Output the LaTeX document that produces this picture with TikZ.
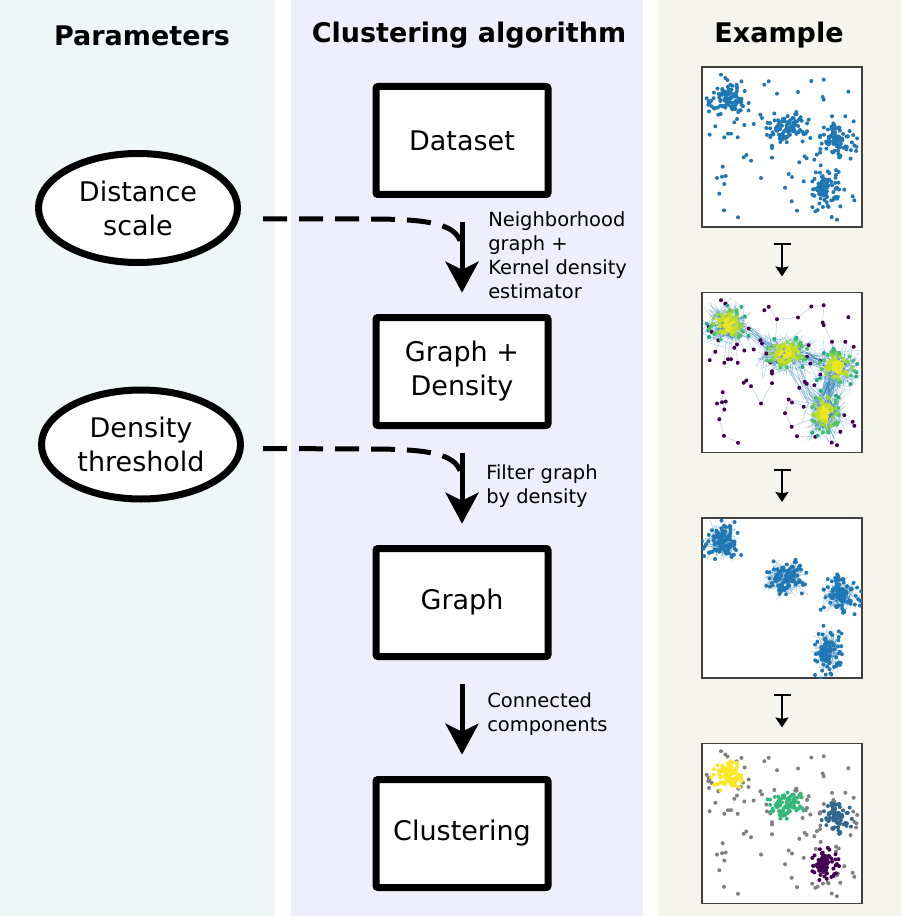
\documentclass[tikz,border=0pt]{standalone}
\usepackage{fontspec}
\setmainfont{DejaVu Sans}
\usetikzlibrary{arrows.meta,shapes.geometric}
\definecolor{bgpar}{HTML}{EEF7F5}
\definecolor{bgalg}{HTML}{EEEEFC}
\definecolor{bgex}{HTML}{F5F5EE}
\definecolor{mplblue}{HTML}{1F77B4}
\definecolor{vir1}{HTML}{EBE51E}
\definecolor{vir2}{HTML}{C2DF23}
\definecolor{vir3}{HTML}{8ED645}
\definecolor{vir4}{HTML}{4AC16D}
\definecolor{vir5}{HTML}{25AB82}
\definecolor{virP}{HTML}{440154}
\definecolor{cluY}{HTML}{FDE725}
\definecolor{cluG}{HTML}{35B779}
\definecolor{cluT}{HTML}{31688E}
\definecolor{cluP}{HTML}{440154}
\definecolor{noisegray}{HTML}{808080}

\newcommand\noisepts{19/7.7, 23.3/11, 62.3/17.7, 66.7/14.3, 75/26.7, 96/25, 109.3/14, 121.7/12.7, 146.3/24.7, 120.7/30, 121.7/32.7, 46.7/36, 16.3/47.7, 58.3/47.7, 60/51, 32.3/55.3, 35/52, 42.3/58, 51.7/57, 13.3/59.3, 7.7/67.7, 22.3/70.3, 26/66.7, 29/66.7, 35.7/70.3, 64.3/61, 70/78.7, 70/81, 106.7/52.7, 108.3/71, 143.3/49.3, 130/49.3, 151.7/54.3, 118.3/82, 41.7/90.3, 44.3/88, 49/93.7, 70/90.7, 102.7/89.3, 104.7/91.3, 112.3/92.7, 97.3/95.3, 20.7/99.7, 15/111, 20/109.7, 23.7/109, 22.3/117, 17.3/126.7, 59/111, 86.7/107, 90/110, 83/120.7, 101.7/114.3, 89.7/134.3, 95/143.7, 113.3/144.3, 22/143.3, 36/150.3, 129.7/150, 135/152.7, 138.3/139.3, 142.3/122.7, 150.7/129.3, 152.3/133.3, 6.7/34.3, 9.7/39.3, 105/64.3, 68.3/70, 118.3/68.7}

\newcommand\noiseedges{62.3/17.7/66.7/14.3, 66.7/14.3/75/26.7, 75/26.7/73.3/47.3, 75/26.7/96/25, 96/25/109.3/14, 109.3/14/121.7/12.7, 121.7/12.7/120.7/30, 120.7/30/121.7/32.7, 121.7/32.7/130/49.3, 130/49.3/133/65, 143.3/49.3/136/66, 151.7/54.3/140/70, 46.7/36/30/40, 16.3/47.7/22/42, 13.3/59.3/20/45, 7.7/67.7/13.3/59.3, 22.3/70.3/24/48, 26/66.7/28/47, 29/66.7/30/45, 35.7/70.3/33/46, 42.3/58/35/42, 51.7/57/40/38, 58.3/47.7/68/55, 60/51/70/58, 41.7/90.3/44.3/88, 44.3/88/49/93.7, 49/93.7/59/111, 59/111/70/90.7, 70/90.7/71/72, 70/81/72/70, 70/78.7/76/68, 20.7/99.7/20/109.7, 20/109.7/23.7/109, 15/111/20/109.7, 15/111/23.7/109, 23.7/109/22.3/117, 20/109.7/22.3/117, 22.3/117/17.3/126.7, 17.3/126.7/22/143.3, 22/143.3/36/150.3, 86.7/107/90/110, 83/120.7/86.7/107, 83/120.7/89.7/134.3, 89.7/134.3/113/125, 90/110/115/116, 86.7/107/116/112, 101.7/114.3/117/118, 97.3/95.3/115/108, 102.7/89.3/117/106, 104.7/91.3/118.3/82, 112.3/92.7/120/107, 118.3/82/128/73, 95/143.7/113.3/144.3, 113.3/144.3/120/132, 129.7/150/126/134, 135/152.7/128/135, 138.3/139.3/130/128, 142.3/122.7/130/118, 150.7/129.3/131/122, 152.3/133.3/132/126, 106.7/52.7/120/68, 108.3/71/125/74, 105/64.3/95/62, 68.3/70/78/63, 6.7/34.3/18/32, 9.7/39.3/20/36}

% seed cx cy sx sy n colour
\newcommand\clusterdots[7]{%
  \pgfmathsetseed{#1}%
  \foreach \k in {1,...,#6}{%
    \pgfmathsetmacro\ux{rand+rand+rand}%
    \pgfmathsetmacro\uy{rand+rand+rand}%
    \fill[#7] ({#2+#4*\ux},{#3+#5*\uy}) circle[radius=1.5pt];%
  }%
}
% seed cx cy sx sy n  (density colouring)
\newcommand\clusterdens[6]{%
  \foreach \pass in {1,2}{%
    \pgfmathsetseed{#1}%
    \foreach \k in {1,...,#6}{%
      \pgfmathsetmacro\ux{rand+rand+rand}%
      \pgfmathsetmacro\uy{rand+rand+rand}%
      \pgfmathsetmacro\rr{sqrt(\ux*\ux+\uy*\uy)}%
      \pgfmathtruncatemacro\ci{\rr<0.8 ? 1 : (\rr<1.4 ? 2 : (\rr<1.9 ? 3 : (\rr<2.4 ? 4 : 5)))}%
      \pgfmathtruncatemacro\inpass{\ci<3 ? 2 : 1}%
      \ifnum\inpass=\pass\relax
        \fill[vir\ci] ({#2+#4*\ux},{#3+#5*\uy}) circle[radius=1.5pt];%
      \fi
    }%
  }%
}
% seed cx cy sx sy n colour (labelled clustering)
\newcommand\clusterlab[7]{%
  \foreach \pass in {1,2}{%
    \pgfmathsetseed{#1}%
    \foreach \k in {1,...,#6}{%
      \pgfmathsetmacro\ux{rand+rand+rand}%
      \pgfmathsetmacro\uy{rand+rand+rand}%
      \pgfmathtruncatemacro\inpass{sqrt(\ux*\ux+\uy*\uy)<2.2 ? 2 : 1}%
      \ifnum\inpass=\pass\relax
        \ifnum\pass=1\relax
          \fill[noisegray] ({#2+#4*\ux},{#3+#5*\uy}) circle[radius=1.5pt];%
        \else
          \fill[#7] ({#2+#4*\ux},{#3+#5*\uy}) circle[radius=1.5pt];%
        \fi
      \fi
    }%
  }%
}
% seed cx cy sx sy n spread
\newcommand\clusterweb[7]{%
  \pgfmathsetseed{#1}%
  \foreach \k in {1,...,#6}{%
    \draw[webline] ({#2+#7*#4*(rand+rand+rand)},{#3+#7*#5*(rand+rand+rand)}) -- ({#2+#7*#4*(rand+rand+rand)},{#3+#7*#5*(rand+rand+rand)});%
  }%
}
% seed x1 y1 x2 y2 s1 s2 n
\newcommand\bridge[8]{%
  \pgfmathsetseed{#1}%
  \foreach \k in {1,...,#8}{%
    \draw[webline] ({#2+#6*(rand+rand)},{#3+#6*(rand+rand)}) -- ({#4+#7*(rand+rand)},{#5+#7*(rand+rand)});%
  }%
}

\begin{document}
\begin{tikzpicture}[x=0.75pt,y=-0.75pt,
  stepbox/.style={draw, line width=5.25pt, fill=white, rounded corners=1.5pt,
    minimum width=129pt, minimum height=81pt, align=center,
    font=\fontsize{20.25pt}{25.5pt}\selectfont},
  param/.style={ellipse, draw, line width=5.25pt, fill=white,
    minimum width=149.25pt, minimum height=81.75pt, inner sep=0pt, align=center,
    font=\fontsize{20.25pt}{25.5pt}\selectfont},
  colhead/.style={anchor=base, inner sep=0pt, font=\bfseries\fontsize{20.25pt}{24pt}\selectfont},
  steplabel/.style={anchor=west, align=left, inner sep=0pt,
    font=\fontsize{14.6pt}{18pt}\selectfont},
  flow/.style={line width=3.75pt, -{Stealth[length=23.25pt,width=24.75pt,inset=6pt]},
    shorten <=18pt, shorten >=16pt},
  paramline/.style={line width=3.75pt, dash pattern=on 18pt off 9pt},
  plotframe/.style={draw=black!75, line width=1.1pt, fill=white, minimum size=120pt,
    inner sep=0pt, outer sep=0pt},
  mapsto/.style={line width=1.5pt, {Bar[width=12.75pt]}-{Stealth[length=7.5pt,width=9.75pt,inset=1pt]},
    shorten <=12pt, shorten >=12pt},
  webline/.style={mplblue, line width=0.3pt, opacity=0.4},
]
\useasboundingbox (0,0) rectangle (901,916);
\fill[white] (0,0) rectangle (901,916);
\fill[bgpar] (0,0) rectangle (275,916);
\fill[bgalg] (291,0) rectangle (643,916);
\fill[bgex] (658,0) rectangle (901,916);

% headers
\node[colhead] (hpar) at (142,45.5) {Parameters};
\node[colhead] (halg) at (469,42.5) {Clustering algorithm};
\node[colhead] (hex) at (779,42.5) {Example};

% parameters
\node[param] (dist) at (138,208) {Distance\\scale};
\node[param] (dens) at (141,444.5) {Density\\threshold};

% algorithm steps
\node[stepbox] (b1) at (462,140.5) {Dataset};
\node[stepbox] (b2) at (462,371.5) {Graph +\\Density};
\node[stepbox] (b3) at (462,602.5) {Graph};
\node[stepbox] (b4) at (462,833.5) {Clustering};

\draw[flow] (b1) -- (b2);
\draw[flow] (b2) -- (b3);
\draw[flow] (b3) -- (b4);

\node[steplabel] (l1) at (488,255) {Neighborhood\\graph +\\Kernel density\\estimator};
\node[steplabel] (l2) at (486,486) {Filter graph\\by density};
\node[steplabel] (l3) at (487,714) {Connected\\components};

\coordinate (m1) at (462,252);
\coordinate (m2) at (462,482);
\draw[paramline] (dist.east) ++(22,11) -- (370,219) .. controls (440,219) and (462,226) .. (m1);
\draw[paramline] (dens.east) ++(19,4) -- (370,449) .. controls (440,449) and (462,456) .. (m2);

% example panels
\node[plotframe] (e1) at (782,147) {};
\node[plotframe] (e2) at (782,372.5) {};
\node[plotframe] (e3) at (782,598) {};
\node[plotframe] (e4) at (782,823.5) {};
\draw[mapsto] (e1) -- (e2);
\draw[mapsto] (e2) -- (e3);
\draw[mapsto] (e3) -- (e4);

% panel 1: dataset
\begin{scope}[shift={(702,67)}]
  \clip (0,0) rectangle (160,160);
  \foreach \px/\py in \noisepts {\fill[mplblue] (\px,\py) circle[radius=1.5pt];}
  \clusterdots{11}{25}{32}{8}{7.5}{95}{mplblue}
  \clusterdots{12}{84}{61}{9.5}{7}{95}{mplblue}
  \clusterdots{13}{135}{75}{8}{7.5}{85}{mplblue}
  \clusterdots{14}{123}{120}{6.5}{8.5}{85}{mplblue}
\end{scope}

% panel 2: graph + density
\begin{scope}[shift={(702,292.5)}]
  \clip (0,0) rectangle (160,160);
  \clusterweb{21}{25}{32}{8}{7.5}{170}{1.4}
  \clusterweb{22}{84}{61}{9.5}{7}{170}{1.4}
  \clusterweb{23}{135}{75}{8}{7.5}{160}{1.4}
  \clusterweb{24}{123}{120}{6.5}{8.5}{160}{1.4}
  \bridge{31}{45}{38}{68}{55}{5}{5}{16}
  \bridge{32}{100}{64}{121}{70}{5}{5}{30}
  \bridge{33}{130}{86}{123}{106}{5}{5}{50}
  \bridge{34}{90}{74}{110}{108}{5}{5}{14}
  \foreach \xa/\ya/\xb/\yb in \noiseedges {\draw[webline] (\xa,\ya) -- (\xb,\yb);}
  \foreach \px/\py in \noisepts {\fill[virP] (\px,\py) circle[radius=1.5pt];}
  \clusterdens{11}{25}{32}{8}{7.5}{95}
  \clusterdens{12}{84}{61}{9.5}{7}{95}
  \clusterdens{13}{135}{75}{8}{7.5}{85}
  \clusterdens{14}{123}{120}{6.5}{8.5}{85}
\end{scope}

% panel 3: filtered graph
\begin{scope}[shift={(702,518)}]
  \clip (0,0) rectangle (160,160);
  \clusterweb{41}{19}{24}{7.5}{8.5}{130}{1.0}
  \clusterweb{42}{83.3}{60}{9.5}{8}{130}{1.0}
  \clusterweb{43}{138.9}{77.4}{8}{8.5}{120}{1.0}
  \clusterweb{44}{125.8}{133.2}{6.5}{10}{120}{1.0}
  \clusterdots{11}{19}{24}{7.5}{8.5}{95}{mplblue}
  \clusterdots{12}{83.3}{60}{9.5}{8}{95}{mplblue}
  \clusterdots{13}{138.9}{77.4}{8}{8.5}{85}{mplblue}
  \clusterdots{14}{125.8}{133.2}{6.5}{10}{85}{mplblue}
\end{scope}

% panel 4: clustering
\begin{scope}[shift={(702,743.5)}]
  \clip (0,0) rectangle (160,160);
  \foreach \px/\py in \noisepts {\fill[noisegray] (\px,\py) circle[radius=1.5pt];}
  \clusterlab{11}{25}{32}{8}{7.5}{95}{cluY}
  \clusterlab{12}{84}{61}{9.5}{7}{95}{cluG}
  \clusterlab{13}{135}{75}{8}{7.5}{85}{cluT}
  \clusterlab{14}{123}{120}{6.5}{8.5}{85}{cluP}
\end{scope}
\end{tikzpicture}
\end{document}
